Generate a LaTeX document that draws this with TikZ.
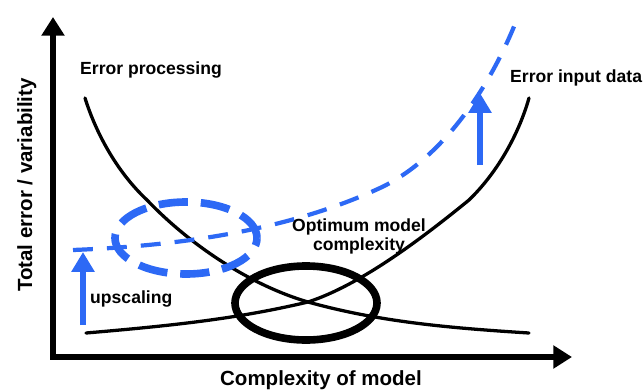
\documentclass[tikz,border=0pt]{standalone}
\usepackage{fontspec}
\setmainfont{Liberation Sans}
\usetikzlibrary{arrows.meta}
\definecolor{myblue}{RGB}{45,105,245}
\begin{document}
\begin{tikzpicture}[x=0.03cm,y=-0.03cm,
  lbl/.style={font=\fontsize{15}{18}\selectfont\bfseries, inner sep=0pt},
  axlbl/.style={font=\fontsize{17.5}{20}\selectfont\bfseries, inner sep=0pt},
  axisline/.style={line width=4.5pt, line join=miter,
    {Triangle[length=16pt,width=19pt]}-{Triangle[length=16pt,width=19pt]}},
  blackcurve/.style={line width=2.8pt, line cap=round},
  blackring/.style={line width=6.5pt},
  bluecurve/.style={myblue, line width=3.6pt, dash pattern=on 17pt off 12pt},
  bluering/.style={myblue, line width=6.5pt, dash pattern=on 25pt off 11pt},
  bluearrow/.style={myblue, line width=4.5pt, -{Triangle[length=17pt,width=19pt]}}
]
\useasboundingbox (0,0) rectangle (644,389);

% axes
\coordinate (ytop) at (53,17);
\coordinate (origin) at (53,357);
\coordinate (xend) at (572,357);
\draw[axisline] (ytop) -- (origin) -- (xend);

% error processing curve (decreasing)
\draw[blackcurve] (85,98) .. controls (95,130) and (115,170) .. (147,200)
  .. controls (190,245) and (250,285) .. (308,302)
  .. controls (380,322) and (450,328) .. (529,333);

% error input data curve (increasing)
\draw[blackcurve] (86,333) .. controls (180,325) and (240,318) .. (308,302)
  .. controls (360,285) and (420,240) .. (469,200)
  .. controls (500,170) and (520,130) .. (529,98);

% optimum ring
\draw[blackring] (306,303) ellipse [x radius=2.13cm, y radius=1.11cm];

% upscaled total error (blue dashed)
\draw[bluecurve] (73,250) .. controls (200,245) and (300,225) .. (380,188)
  .. controls (440,160) and (490,90) .. (519,14);

% blue dashed ring
\draw[bluering] (186,238) ellipse [x radius=2.13cm, y radius=1.08cm];

% blue arrows
\coordinate (ua1) at (83,325);
\coordinate (ua2) at (83,252);
\draw[bluearrow] (ua1) -- (ua2);
\coordinate (ra1) at (480,165);
\coordinate (ra2) at (480,93);
\draw[bluearrow] (ra1) -- (ra2);

% labels
\node[lbl, anchor=base west] (ep) at (80,74) {Error processing};
\node[lbl, anchor=base west] (eid) at (510,82) {Error input data};
\node[lbl, anchor=base] (opt1) at (359,231) {Optimum model};
\node[lbl, anchor=base] (opt2) at (359,250) {complexity};
\node[lbl, anchor=base west] (up) at (90,303) {upscaling};
\node[axlbl, anchor=base] (xl) at (321,385) {Complexity of model};
\node[axlbl, anchor=base, rotate=90] (yl) at (32,185) {Total error / variability};
\end{tikzpicture}
\end{document}
